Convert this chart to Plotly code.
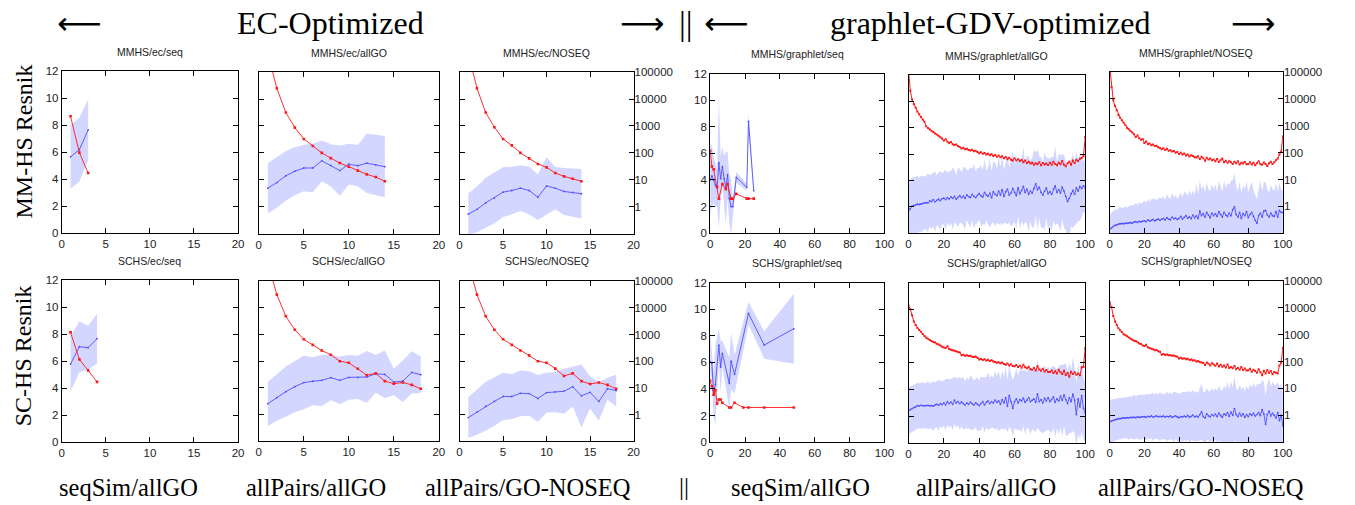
import plotly.graph_objects as go

W, H = 1355, 505

# ---------------- data ----------------
GX = list(range(0, 101))  # x positions of the graphlet allGO / NOSEQ runs

# MMHS / ec / seq
mm_ec_seq_x = [1, 2, 3]
mm_ec_seq_mean = [5.66, 6.2, 7.66]
mm_ec_seq_sd = [2.37, 2.37, 2.26]
mm_ec_seq_red_x = [1, 2, 3]
mm_ec_seq_red = [2160, 97, 17]

# MMHS / ec / allGO
mm_ec_all_x = [1, 2, 3, 4, 5, 6, 7, 8, 9, 10, 11, 12, 13, 14]
mm_ec_all_mean = [3.38, 3.8, 4.3, 4.64, 4.88, 4.88, 5.41, 5.07, 4.69, 5.17, 5.05, 5.24, 5.12, 4.98]
mm_ec_all_sd = [1.86, 1.87, 1.85, 1.79, 1.73, 1.8, 1.52, 1.57, 1.87, 1.52, 1.53, 2.21, 2.23, 2.27]
mm_ec_all_red_x = mm_ec_all_x
mm_ec_all_red = [500000, 25000, 3160, 870, 330, 180, 100, 64, 42, 31, 22, 16, 12.7, 8.9]

# MMHS / ec / NOSEQ
mm_ec_noseq_x = [1, 2, 3, 4, 5, 6, 7, 8, 9, 10, 11, 12, 13, 14]
mm_ec_noseq_mean = [1.45, 1.81, 2.29, 2.66, 3.09, 3.21, 3.38, 3.21, 2.71, 3.55, 3.38, 3.14, 3.07, 2.97]
mm_ec_noseq_sd = [1.55, 1.69, 1.86, 1.88, 1.84, 1.77, 1.69, 1.79, 1.69, 2.13, 1.57, 1.74, 1.79, 1.84]
mm_ec_noseq_red_x = mm_ec_noseq_x
mm_ec_noseq_red = [500000, 25000, 3160, 900, 330, 190, 100, 63, 39, 29, 18, 13.5, 11, 8.9]

# MMHS / graphlet / seq
mm_gr_seq_x = [0, 1, 2, 3, 4, 5, 6, 7, 8, 9, 10, 11, 12, 13, 15, 21, 22, 25]
mm_gr_seq_mean = [4.0, 4.3, 4.0, 3.6, 3.4, 5.3, 4.1, 5.0, 4.1, 3.4, 4.4, 2.6, 2.0, 2.0, 4.2, 3.45, 8.4, 3.2]
mm_gr_seq_sd = [2.6, 2.3, 1.75, 1.6, 1.4, 4.9, 1.65, 1.5, 1.75, 2.75, 1.75, 1.85, 2.1, 0.55, 0.4, 0.25, 0.7, 0.2]
mm_gr_seq_red_x = [0, 1, 2, 4, 5, 7, 9, 10, 12, 13, 15, 21, 22, 25]
mm_gr_seq_red = [126, 32, 25, 5.6, 2, 7, 4.5, 7, 2, 2, 3, 2, 2, 2]

# MMHS / graphlet / allGO
mm_gr_all_mean = [
    1.68, 1.85, 2.05, 2.10, 2.15, 2.20, 2.18, 2.22, 2.25, 2.30,
    2.32, 2.30, 2.45, 2.40, 2.55, 2.38, 2.50, 2.58, 2.48, 2.62,
    2.66, 2.55, 2.70, 2.60, 2.75, 2.65, 2.80, 2.58, 2.72, 2.85,
    2.70, 2.82, 2.65, 2.90, 2.78, 2.72, 2.95, 2.80, 2.70, 2.88,
    3.00, 2.85, 2.75, 3.10, 2.90, 2.80, 3.05, 2.70, 3.15, 2.95,
    2.85, 3.20, 2.90, 3.30, 2.80, 3.15, 3.35, 2.90, 3.05, 3.40,
    3.10, 2.85, 3.45, 3.00, 3.25, 3.55, 3.10, 3.35, 2.95, 3.20,
    3.05, 3.40, 3.75, 3.30, 3.50, 3.10, 2.90, 3.20, 3.45, 3.00,
    3.15, 2.95, 3.35, 3.60, 3.10, 3.30, 3.05, 3.50, 3.20, 2.80,
    2.40, 2.65, 3.00, 3.25, 2.95, 3.45, 3.20, 3.55, 3.40, 3.60,
    3.45]
mm_gr_all_sd = [
    2.30, 2.25, 2.20, 2.15, 2.10, 2.20, 2.05, 2.15, 2.10, 2.00,
    2.05, 2.25, 1.95, 2.10, 2.00, 2.30, 1.90, 2.05, 2.25, 1.95,
    2.00, 2.30, 1.90, 2.10, 1.95, 2.35, 2.00, 1.85, 2.25, 2.05,
    1.95, 2.20, 2.40, 1.90, 2.05, 2.30, 1.95, 2.45, 2.00, 2.10,
    1.95, 2.35, 2.05, 2.50, 1.90, 2.15, 2.60, 2.00, 2.30, 2.45,
    2.05, 2.55, 2.15, 2.70, 2.00, 2.40, 2.65, 2.10, 2.50, 2.80,
    2.20, 2.55, 2.15, 2.70, 2.30, 3.00, 2.25, 2.60, 2.85, 2.30,
    2.65, 2.90, 2.40, 3.05, 2.35, 2.70, 2.45, 2.95, 2.30, 2.75,
    2.50, 2.85, 2.40, 3.00, 2.35, 2.70, 2.90, 2.45, 2.80, 2.55,
    2.60, 2.95, 2.50, 2.85, 2.40, 2.75, 2.30, 2.60, 2.20, 2.00,
    1.90]
mm_gr_all_red = [
    150000, 26000, 12000, 8000, 5800, 4200, 3300, 2600, 2100, 1700,
    1150, 1000, 880, 780, 700, 620, 560, 500, 440, 400,
    330, 370, 300, 270, 290, 240, 225, 235, 205, 190,
    165, 175, 155, 160, 145, 140, 148, 130, 135, 122,
    110, 120, 105, 112, 98, 104, 92, 100, 86, 94,
    80, 90, 76, 84, 70, 78, 65, 74, 62, 58,
    70, 58, 65, 55, 62, 50, 58, 46, 52, 44,
    48, 40, 45, 42, 50, 38, 46, 41, 44, 39,
    47, 40, 52, 43, 38, 48, 42, 55, 40, 35,
    45, 52, 40, 58, 46, 62, 55, 68, 72, 85,
    450]

# MMHS / graphlet / NOSEQ
mm_gr_noseq_mean = [
    0.30, 0.40, 0.50, 0.58, 0.62, 0.68, 0.70, 0.72, 0.70, 0.74,
    0.73, 0.76, 0.78, 0.74, 0.82, 0.86, 0.80, 0.88, 0.84, 0.90,
    0.92, 0.86, 0.98, 0.90, 0.95, 1.02, 0.92, 1.00, 1.05, 0.96,
    1.04, 1.10, 0.98, 1.15, 1.05, 1.00, 1.20, 1.08, 1.12, 1.02,
    1.10, 1.25, 1.05, 1.18, 1.30, 1.12, 1.22, 1.08, 1.35, 1.15,
    1.28, 1.10, 1.65, 1.30, 1.45, 1.20, 1.55, 1.35, 1.15, 1.50,
    1.30, 1.45, 1.25, 1.60, 1.40, 1.20, 1.55, 1.35, 1.25, 1.50,
    1.30, 1.75, 1.96, 1.40, 1.20, 1.55, 1.10, 1.45, 1.30, 1.60,
    1.16, 1.40, 1.55, 1.25, 0.95, 0.73, 1.30, 1.50, 1.20, 1.65,
    1.70, 1.35, 1.20, 1.50, 1.30, 1.25, 1.60, 1.20, 1.70, 1.55,
    1.53]
mm_gr_noseq_sd = [
    1.10, 1.15, 1.15, 1.20, 1.15, 1.20, 1.25, 1.15, 1.20, 1.25,
    1.17, 1.25, 1.30, 1.35, 1.25, 1.40, 1.30, 1.45, 1.35, 1.40,
    1.50, 1.40, 1.55, 1.45, 1.60, 1.50, 1.65, 1.45, 1.55, 1.70,
    1.55, 1.65, 1.50, 1.75, 1.60, 1.55, 1.80, 1.60, 1.70, 1.55,
    1.64, 1.80, 1.60, 1.90, 1.70, 1.65, 2.00, 1.75, 1.85, 1.70,
    2.40, 1.80, 2.30, 1.95, 2.10, 1.85, 2.20, 1.90, 2.00, 2.15,
    1.95, 2.20, 1.85, 2.30, 2.05, 1.90, 2.40, 2.00, 2.50, 2.10,
    2.60, 2.20, 2.50, 2.15, 1.95, 2.30, 1.90, 2.10, 2.00, 2.25,
    1.90, 2.10, 2.30, 1.95, 1.85, 1.80, 2.00, 2.40, 1.95, 2.20,
    2.10, 1.90, 1.80, 2.05, 2.00, 1.85, 2.15, 1.90, 2.05, 1.70,
    1.60]
mm_gr_noseq_red = [
    150000, 27000, 9000, 5500, 3800, 2500, 2000, 1600, 1300, 1050,
    830, 750, 640, 560, 480, 380, 430, 340, 300, 320,
    230, 260, 210, 220, 190, 200, 175, 180, 160, 150,
    133, 145, 125, 138, 118, 122, 110, 115, 100, 105,
    89, 98, 85, 92, 78, 86, 72, 80, 75, 68,
    66, 74, 58, 70, 62, 50, 64, 55, 60, 52,
    55, 48, 58, 45, 52, 60, 44, 50, 42, 48,
    44, 38, 46, 40, 48, 36, 42, 39, 45, 37,
    38, 44, 36, 42, 34, 40, 48, 38, 35, 43,
    38, 32, 40, 46, 38, 44, 52, 60, 85, 110,
    400]

# SCHS / ec / seq
sc_ec_seq_x = [1, 2, 3, 4]
sc_ec_seq_mean = [5.78, 7.06, 6.99, 7.66]
sc_ec_seq_sd = [2.03, 1.89, 1.62, 1.85]
sc_ec_seq_red_x = [1, 2, 3, 4]
sc_ec_seq_red = [1150, 115, 45, 17]

# SCHS / ec / allGO
sc_ec_all_x = [1, 2, 3, 4, 5, 6, 7, 8, 9, 10, 11, 12, 13, 14, 15, 16, 17, 18]
sc_ec_all_mean = [2.82, 3.28, 3.72, 4.09, 4.4, 4.5, 4.57, 4.77, 4.57, 4.79, 4.79, 4.82, 5.06, 5.01, 4.45, 4.5, 5.16, 4.99]
sc_ec_all_sd = [1.67, 1.73, 1.88, 1.9, 2.0, 1.79, 1.92, 1.7, 1.79, 1.67, 1.62, 1.95, 1.4, 1.79, 0.98, 1.56, 1.58, 1.37]
sc_ec_all_red_x = sc_ec_all_x
sc_ec_all_red = [500000, 31000, 4800, 1500, 660, 410, 250, 175, 100, 87, 52, 30, 35, 18, 14.5, 16, 13, 9.3]

# SCHS / ec / NOSEQ
sc_ec_noseq_x = [1, 2, 3, 4, 5, 6, 7, 8, 9, 10, 11, 12, 13, 14, 15, 16, 17, 18]
sc_ec_noseq_mean = [1.78, 2.19, 2.63, 2.99, 3.36, 3.36, 3.6, 3.58, 3.21, 3.65, 3.7, 3.75, 4.09, 3.41, 3.67, 2.99, 3.94, 3.8]
sc_ec_noseq_sd = [1.52, 1.7, 1.83, 1.81, 1.77, 1.68, 1.71, 1.66, 1.76, 1.49, 1.52, 1.68, 1.48, 2.35, 1.2, 1.44, 0.82, 1.18]
sc_ec_noseq_red_x = sc_ec_noseq_x
sc_ec_noseq_red = [500000, 31000, 4800, 1500, 660, 410, 250, 165, 100, 87, 53, 28, 35, 18, 14, 16, 13, 9.3]

# SCHS / graphlet / seq
sc_gr_seq_x = [0, 1, 2, 3, 5, 6, 7, 11, 12, 14, 22, 31, 48]
sc_gr_seq_mean = [6.05, 5.93, 3.55, 4.34, 7.3, 5.64, 6.67, 4.41, 6.08, 5.1, 9.68, 7.3, 8.53]
sc_gr_seq_sd = [2.25, 0.85, 1.75, 3.0, 1.25, 1.95, 0.95, 1.95, 2.15, 1.45, 0.85, 1.03, 2.63]
sc_gr_seq_red_x = [0, 1, 2, 3, 4, 5, 6, 7, 11, 12, 14, 19, 22, 31, 48]
sc_gr_seq_red = [20, 12.6, 6, 8.9, 2.8, 4, 4, 3, 2, 2, 3, 2, 2, 2, 2]

# SCHS / graphlet / allGO
sc_gr_all_mean = [
    2.43, 2.50, 2.58, 2.65, 2.70, 2.80, 2.78, 2.82, 2.80, 2.78,
    2.80, 2.82, 2.78, 2.80, 2.76, 2.85, 2.90, 2.82, 2.95, 2.88,
    3.00, 2.85, 3.10, 2.95, 3.05, 2.90, 3.20, 3.00, 3.10, 2.95,
    3.07, 2.95, 2.85, 3.00, 2.90, 3.05, 2.95, 2.85, 3.00, 2.90,
    2.80, 2.95, 3.10, 2.85, 3.05, 3.15, 2.95, 3.10, 3.00, 3.20,
    3.05, 3.15, 2.90, 3.25, 3.00, 3.40, 2.75, 3.55, 3.10, 2.60,
    3.10, 3.30, 3.00, 3.25, 3.15, 3.35, 3.05, 3.20, 3.40, 3.10,
    3.20, 3.30, 3.05, 3.67, 3.10, 3.25, 3.00, 3.35, 3.15, 3.40,
    3.10, 3.25, 3.45, 3.05, 3.30, 3.15, 3.50, 3.20, 3.60, 3.25,
    2.95, 3.40, 3.10, 3.65, 3.20, 2.12, 3.30, 2.70, 3.55, 2.60,
    2.26]
sc_gr_all_sd = [
    1.77, 1.75, 1.72, 1.74, 1.70, 1.72, 1.68, 1.70, 1.72, 1.69,
    1.70, 1.80, 1.68, 1.72, 1.85, 1.70, 1.74, 1.88, 1.72, 1.76,
    1.70, 1.90, 1.72, 1.80, 1.74, 1.95, 1.76, 1.82, 1.78, 1.96,
    1.80, 1.98, 1.76, 1.90, 1.82, 2.05, 1.95, 1.84, 1.80, 2.02,
    1.85, 2.05, 1.80, 2.10, 1.88, 2.15, 1.92, 1.98, 1.86, 2.20,
    1.95, 2.25, 1.90, 2.15, 2.00, 2.30, 1.95, 2.35, 2.05, 2.10,
    2.00, 2.30, 2.05, 2.25, 2.35, 2.05, 2.40, 2.10, 2.30, 2.45,
    2.15, 2.40, 2.20, 2.55, 2.15, 2.45, 2.25, 2.50, 2.20, 2.40,
    2.25, 2.50, 2.30, 2.60, 2.20, 2.55, 2.35, 2.65, 2.30, 2.70,
    2.40, 2.65, 2.35, 2.75, 2.45, 2.30, 2.65, 2.40, 2.70, 2.30,
    2.20]
sc_gr_all_red = [
    14000, 10000, 6000, 3500, 2600, 2000, 1700, 1450, 1200, 1000,
    870, 800, 720, 660, 600, 570, 520, 480, 440, 400,
    375, 360, 420, 330, 310, 295, 280, 270, 255, 245,
    190, 200, 185, 192, 178, 182, 170, 165, 172, 155,
    133, 140, 128, 136, 122, 130, 118, 125, 112, 108,
    100, 106, 96, 102, 90, 85, 95, 80, 88, 76,
    74, 82, 70, 78, 66, 85, 68, 62, 72, 58,
    55, 64, 52, 74, 56, 50, 60, 47, 54, 45,
    45, 52, 42, 48, 40, 55, 44, 38, 50, 35,
    42, 30, 46, 38, 44, 36, 40, 34, 69, 70,
    350]

# SCHS / graphlet / NOSEQ
sc_gr_noseq_mean = [
    1.50, 1.58, 1.62, 1.66, 1.70, 1.75, 1.74, 1.78, 1.80, 1.79,
    1.82, 1.80, 1.84, 1.83, 1.86, 1.82, 1.88, 1.84, 1.86, 1.90,
    1.89, 1.85, 1.92, 1.88, 1.95, 1.86, 1.90, 1.96, 1.88, 1.92,
    1.89, 1.94, 1.86, 1.92, 1.88, 1.95, 1.85, 1.90, 1.96, 1.87,
    1.82, 1.90, 1.86, 1.94, 1.88, 1.98, 1.85, 1.92, 2.00, 1.88,
    1.94, 1.86, 2.05, 2.25, 1.90, 1.80, 2.10, 1.95, 1.88, 2.05,
    1.96, 2.08, 1.90, 2.15, 1.98, 1.85, 2.10, 2.00, 2.20, 1.92,
    2.23, 2.00, 2.50, 2.05, 1.90, 2.15, 1.95, 2.10, 1.85, 2.05,
    1.90, 2.10, 2.00, 2.15, 1.95, 2.05, 2.20, 1.98, 2.42, 2.10,
    1.33, 2.05, 2.30, 1.95, 2.15, 2.00, 1.80, 2.20, 1.60, 2.00,
    1.21]
sc_gr_noseq_sd = [
    1.65, 1.60, 1.58, 1.55, 1.56, 1.54, 1.55, 1.52, 1.54, 1.53,
    1.53, 1.62, 1.58, 1.56, 1.68, 1.58, 1.62, 1.70, 1.63, 1.65,
    1.61, 1.76, 1.62, 1.68, 1.65, 1.80, 1.64, 1.72, 1.66, 1.82,
    1.68, 1.72, 1.66, 1.84, 1.70, 1.76, 1.68, 1.88, 1.72, 1.78,
    1.80, 1.74, 1.92, 1.76, 1.85, 1.78, 1.94, 1.80, 1.88, 1.82,
    1.86, 1.80, 1.92, 2.10, 1.85, 1.90, 1.95, 1.84, 1.92, 1.98,
    1.86, 1.95, 1.90, 2.05, 1.92, 1.98, 2.10, 1.95, 2.30, 2.00,
    2.30, 2.05, 2.40, 2.00, 1.95, 2.10, 1.98, 2.05, 1.92, 2.15,
    2.00, 2.20, 2.05, 2.30, 2.10, 2.25, 2.15, 2.35, 2.20, 2.40,
    2.10, 2.30, 2.45, 2.20, 2.35, 2.25, 2.40, 2.30, 2.50, 2.35,
    2.40]
sc_gr_noseq_red = [
    16000, 10700, 5000, 3100, 2300, 1750, 1450, 1250, 1050, 950,
    870, 780, 700, 650, 600, 580, 520, 470, 450, 400,
    380, 420, 340, 320, 300, 285, 265, 270, 240, 230,
    180, 190, 175, 182, 170, 172, 165, 168, 158, 150,
    130, 138, 126, 132, 122, 128, 115, 120, 110, 112,
    100, 105, 96, 92, 88, 75, 92, 82, 72, 86,
    78, 70, 84, 66, 76, 64, 72, 60, 78, 58,
    62, 56, 68, 52, 58, 50, 62, 48, 55, 46,
    47, 54, 42, 50, 44, 38, 52, 40, 31, 45,
    36, 48, 38, 44, 34, 41, 38, 36, 71, 90,
    330]

titles = ["MMHS/ec/seq", "MMHS/ec/allGO", "MMHS/ec/NOSEQ",
          "MMHS/graphlet/seq", "MMHS/graphlet/allGO", "MMHS/graphlet/NOSEQ",
          "SCHS/ec/seq", "SCHS/ec/allGO", "SCHS/ec/NOSEQ",
          "SCHS/graphlet/seq", "SCHS/graphlet/allGO", "SCHS/graphlet/NOSEQ"]

left_ticks = [0, 2, 4, 6, 8, 10, 12]
right_ticks = [1, 10, 100, 1000, 10000, 100000]
right_tick_text = ["1", "10", "100", "1000", "10000", "100000"]
ec_xticks = [0, 5, 10, 15, 20]
gr_xticks = [0, 20, 40, 60, 80, 100]

header_left = "EC-Optimized"
header_right = "graphlet-GDV-optimized"
row_labels = ["MM-HS Resnik", "SC-HS Resnik"]
col_labels = ["seqSim/allGO", "allPairs/allGO", "allPairs/GO-NOSEQ",
              "seqSim/allGO", "allPairs/allGO", "allPairs/GO-NOSEQ"]

# ---------------- panel table ----------------
panels = [
    (mm_ec_seq_x, mm_ec_seq_mean, mm_ec_seq_sd, mm_ec_seq_red_x, mm_ec_seq_red),
    (mm_ec_all_x, mm_ec_all_mean, mm_ec_all_sd, mm_ec_all_red_x, mm_ec_all_red),
    (mm_ec_noseq_x, mm_ec_noseq_mean, mm_ec_noseq_sd, mm_ec_noseq_red_x, mm_ec_noseq_red),
    (mm_gr_seq_x, mm_gr_seq_mean, mm_gr_seq_sd, mm_gr_seq_red_x, mm_gr_seq_red),
    (GX, mm_gr_all_mean, mm_gr_all_sd, GX, mm_gr_all_red),
    (GX, mm_gr_noseq_mean, mm_gr_noseq_sd, GX, mm_gr_noseq_red),
    (sc_ec_seq_x, sc_ec_seq_mean, sc_ec_seq_sd, sc_ec_seq_red_x, sc_ec_seq_red),
    (sc_ec_all_x, sc_ec_all_mean, sc_ec_all_sd, sc_ec_all_red_x, sc_ec_all_red),
    (sc_ec_noseq_x, sc_ec_noseq_mean, sc_ec_noseq_sd, sc_ec_noseq_red_x, sc_ec_noseq_red),
    (sc_gr_seq_x, sc_gr_seq_mean, sc_gr_seq_sd, sc_gr_seq_red_x, sc_gr_seq_red),
    (GX, sc_gr_all_mean, sc_gr_all_sd, GX, sc_gr_all_red),
    (GX, sc_gr_noseq_mean, sc_gr_noseq_sd, GX, sc_gr_noseq_red),
]

# pixel geometry of the plot boxes
col_px = [(59.3, 237.3), (258.3, 440.0), (461.0, 636.7),
          (714.0, 890.0), (914.3, 1092.7), (1117.5, 1292.3)]
row_tops = [[67.0, 67.7, 67.7, 69.3, 71.0, 67.7],
            [280.7, 281.7, 281.7, 283.3, 283.3, 281.7]]
row_bots = [[232.7, 233.3, 233.3, 232.7, 232.7, 232.7],
            [446.7, 446.0, 446.0, 446.7, 447.7, 446.7]]

BAND = "#d3d6ff"
BLUE = "#4f4fff"
RED = "#ff1a1a"
TICKFONT = dict(family="Liberation Sans, Arial, sans-serif", size=11.5, color="#222")
SERIF = "Liberation Serif, Times New Roman, serif"


def px_x(v):
    return v / W


def px_y(v):
    return 1 - v / H


fig = go.Figure()
layout = dict(width=W, height=H, margin=dict(l=0, r=0, t=0, b=0),
              paper_bgcolor="white", plot_bgcolor="white", showlegend=False)
annotations = []

for k, (bx, bm, bsd, rx, rv) in enumerate(panels):
    i = k + 1
    r, c = divmod(k, 6)
    is_ec = c < 3
    dense = c in (4, 5)
    xref = "x" if i == 1 else f"x{i}"
    yref = "y" if i == 1 else f"y{i}"
    y2ref = f"y{i + 12}"

    upper = [m + s for m, s in zip(bm, bsd)]
    lower = [m - s for m, s in zip(bm, bsd)]
    fig.add_trace(go.Scatter(x=list(bx) + list(bx)[::-1], y=upper + lower[::-1],
                             fill="toself", fillcolor=BAND, line=dict(width=0),
                             mode="lines", hoverinfo="skip", xaxis=xref, yaxis=yref))
    fig.add_trace(go.Scatter(x=bx, y=bm, mode="lines+markers",
                             line=dict(color=BLUE, width=0.9),
                             marker=dict(color=BLUE, size=1.8),
                             xaxis=xref, yaxis=yref))
    fig.add_trace(go.Scatter(x=rx, y=rv, mode="lines+markers",
                             line=dict(color=RED, width=1 if dense else 0.9),
                             marker=dict(color=RED, size=2 if dense else 2.6, symbol="square"),
                             xaxis=xref, yaxis=y2ref))

    x0, x1 = col_px[c]
    yt, yb = row_tops[r][c], row_bots[r][c]
    common = dict(showline=True, linecolor="black", linewidth=1, mirror="ticks",
                  ticks="inside", ticklen=5, tickcolor="black", tickwidth=1,
                  showgrid=False, zeroline=False, tickfont=TICKFONT)
    layout["xaxis" if i == 1 else f"xaxis{i}"] = dict(
        domain=[px_x(x0), px_x(x1)], anchor=yref,
        range=[0, 20] if is_ec else [0, 100],
        tickvals=ec_xticks if is_ec else gr_xticks, **common)
    layout["yaxis" if i == 1 else f"yaxis{i}"] = dict(
        domain=[px_y(yb), px_y(yt)], anchor=xref, range=[0, 12],
        tickvals=left_ticks, showticklabels=(c in (0, 3)), **common)
    layout[f"yaxis{i + 12}"] = dict(
        overlaying=yref, anchor=xref, side="right", type="log", range=[-1, 5],
        tickvals=right_ticks, ticktext=right_tick_text, ticks="",
        showticklabels=(c in (2, 5)), showgrid=False, zeroline=False,
        showline=False, tickfont=TICKFONT)

    annotations.append(dict(text=titles[k], xref="paper", yref="paper",
                            x=px_x((x0 + x1) / 2), y=px_y(yt - 20),
                            xanchor="center", yanchor="middle", showarrow=False,
                            font=dict(family="Liberation Sans, Arial, sans-serif",
                                      size=10.5, color="#222")))


def text_ann(t, x, y, size, family=SERIF, angle=0):
    return dict(text=t, xref="paper", yref="paper", x=px_x(x), y=px_y(y),
                xanchor="center", yanchor="middle", showarrow=False,
                textangle=angle, font=dict(family=family, size=size, color="black"))


ARROWF = "DejaVu Sans, sans-serif"
annotations += [
    text_ann("⟵", 77, 17, 31, ARROWF),
    text_ann(header_left, 331, 17, 32),
    text_ann("⟶", 645, 17, 31, ARROWF),
    text_ann("||", 690, 18, 34),
    text_ann("⟵", 730, 17, 31, ARROWF),
    text_ann(header_right, 997, 17, 32),
    text_ann("⟶", 1262, 17, 31, ARROWF),
    text_ann(row_labels[0], 21, 139, 24, angle=-90),
    text_ann(row_labels[1], 21, 358, 24, angle=-90),
    text_ann("||", 688, 492, 25),
]
col_centers = [127, 316, 530, 805, 993, 1210]
for t, cx in zip(col_labels, col_centers):
    annotations.append(text_ann(t, cx, 493, 24.5))

layout["annotations"] = annotations
fig.update_layout(**layout)
fig.write_html("out.html",
               config={"displayModeBar": False},
               post_script="document.body.style.margin='0';"
                           "document.documentElement.style.overflow='hidden';"
                           "document.body.style.overflow='hidden';")
